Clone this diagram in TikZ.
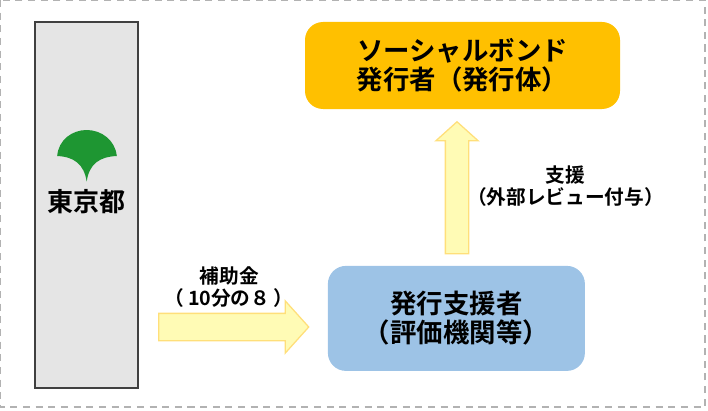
\documentclass[tikz,border=0pt]{standalone}
\usepackage{fontspec}
\setmainfont[BoldFont={Noto Sans CJK JP Bold}]{Noto Sans CJK JP}
\usetikzlibrary{shapes.arrows}
\definecolor{orangebox}{HTML}{FFC000}
\definecolor{bluebox}{HTML}{9DC3E6}
\definecolor{arrowfill}{HTML}{FFFBB5}
\definecolor{arrowline}{HTML}{FFDF7A}
\definecolor{leafgreen}{HTML}{1E9632}
\begin{document}
\begin{tikzpicture}
	\tikzstyle{bigbox}=[rounded corners=0.45cm,align=center,font=\fontsize{18.8}{20.6}\selectfont\bfseries,inner sep=0pt]
	\tikzstyle{blockarrow}=[single arrow,draw=arrowline,fill=arrowfill,line width=0.9pt,inner xsep=0pt,single arrow tip angle=96]
	\tikzstyle{smalltext}=[align=center,font=\fontsize{14}{15.6}\selectfont\bfseries,inner sep=0pt]
	\useasboundingbox (0,0) rectangle (17.7,-10.25);
	\draw[gray!60,dash pattern=on 5pt off 4pt,line width=1.2pt] (0,0) rectangle (17.62,-10.18);
	\node[draw=black!75,line width=1pt,fill=black!10,minimum width=2.575cm,minimum height=9.15cm,inner sep=0pt] (tokyo) at (2.1625,-5.125) {};
	\fill[leafgreen] (2.167,-4.54) .. controls (2.1,-4.1) and (1.85,-3.92) .. (1.43,-3.9)
		.. controls (1.46,-3.5) and (1.8,-3.25) .. (2.167,-3.25) .. controls (2.53,-3.25) and (2.88,-3.5) .. (2.92,-3.9)
		.. controls (2.48,-3.92) and (2.23,-4.1) .. (2.167,-4.54) -- cycle;
	\node[font=\fontsize{18.5}{20}\selectfont\bfseries,inner sep=0pt] (tokyolabel) at (2.16,-5.05) {東京都};
	\node[bigbox,fill=orangebox,minimum width=7.875cm,minimum height=2.175cm] (issuer) at (11.5625,-1.6375) {ソーシャルボンド\\発行者（発行体）};
	\node[bigbox,fill=bluebox,minimum width=6.425cm,minimum height=2.625cm] (support) at (11.41,-7.96) {発行支援者\\（評価機関等）};
	\node[blockarrow,minimum height=3.75cm,inner ysep=0.325cm,single arrow head extend=0.3125cm] (subsidy) at (5.69,-8.175) {};
	\node[blockarrow,rotate=90,minimum height=3.3cm,inner ysep=0.275cm,single arrow head extend=0.2375cm] (review) at (11.425,-4.825) {};
	\node[smalltext] (subsidylabel) at (5.73,-7.18) {補助金\\（\kern2.5pt 10分の８\kern2.5pt）};
	\node[smalltext] (reviewlabel) at (14.14,-4.65) {支援\\（外部レビュー付与）};
\end{tikzpicture}
\end{document}
